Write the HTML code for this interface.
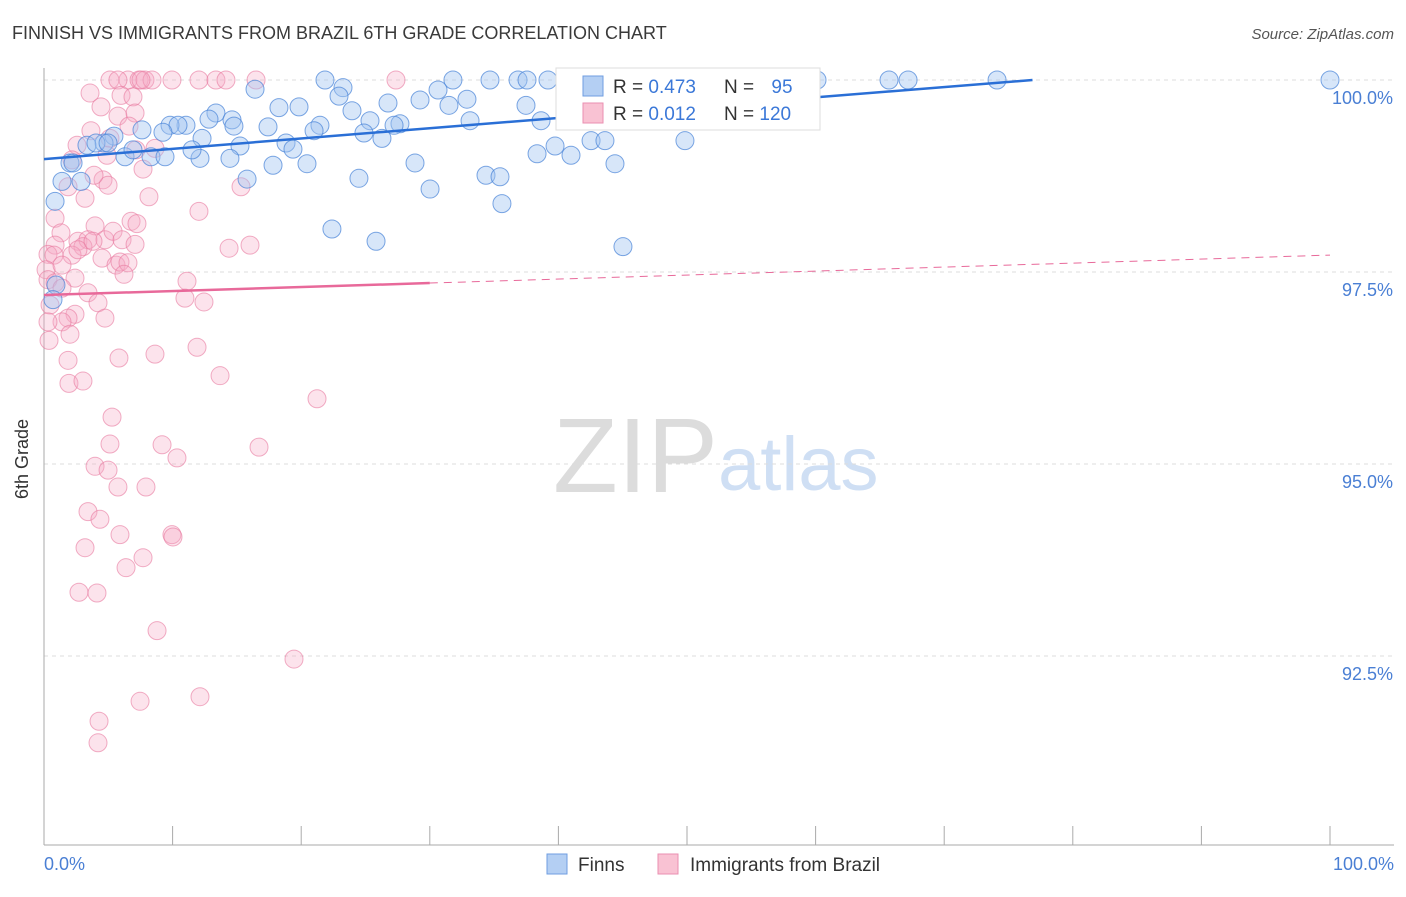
<!DOCTYPE html>
<html><head><meta charset="utf-8"><style>
body{margin:0;background:#fff;font-family:"Liberation Sans",sans-serif;}
svg text{font-family:"Liberation Sans",sans-serif;}
</style></head><body>
<svg id="chart" width="1406" height="892" xmlns="http://www.w3.org/2000/svg">
<text x="12" y="39" font-size="18" fill="#3a3a3a">FINNISH VS IMMIGRANTS FROM BRAZIL 6TH GRADE CORRELATION CHART</text>
<text x="1394" y="39" font-size="15" fill="#555" text-anchor="end" font-style="italic">Source: ZipAtlas.com</text>
<text x="24" y="455" font-size="18" fill="#333" transform="rotate(-90 28 455)" text-anchor="middle">6th Grade</text>
<g>
<text x="553" y="492" font-size="106" fill="#dcdcdc" font-family="Liberation Serif">ZIP</text>
<text x="718" y="490" font-size="76" fill="#cfdff4">atlas</text>
</g>
<g id="grid"></g><g id="axes"></g><g id="pink"></g><g id="blue"></g><g id="lines"></g>
<g>
<rect x="556" y="68" width="264" height="62" fill="#fff" stroke="#ddd"/>
<rect x="583" y="76" width="20" height="20" fill="#b4cff3" stroke="#6f9ee0"/>
<text x="613" y="93" font-size="19" fill="#333">R = <tspan fill="#3b78d8">0.473</tspan></text>
<text x="724" y="93" font-size="19" fill="#333">N = <tspan dx="12" fill="#3b78d8">95</tspan></text>
<rect x="583" y="103" width="20" height="20" fill="#f9c2d3" stroke="#ea8fb0"/>
<text x="613" y="120" font-size="19" fill="#333">R = <tspan fill="#3b78d8">0.012</tspan></text>
<text x="724" y="120" font-size="19" fill="#333">N = <tspan fill="#3b78d8">120</tspan></text>
</g>
<g>
<rect x="547" y="854" width="20" height="20" fill="#b4cff3" stroke="#6f9ee0"/>
<text x="578" y="871" font-size="19" fill="#333">Finns</text>
<rect x="658" y="854" width="20" height="20" fill="#f9c2d3" stroke="#ea8fb0"/>
<text x="690" y="871" font-size="19" fill="#333">Immigrants from Brazil</text>
</g>
</svg>
<script>
const yTicks=[100,97.5,95,92.5];
const yTickLabels=["100.0%","97.5%","95.0%","92.5%"];
const xTickVals=[0,10,20,30,40,50,60,70,80,90,100];
const blueX=[21.85,31.8,34.68,36.86,37.56,39.19,46.89,51.79,54.12,55.91,58.01,60.11,65.71,67.19,74.11,100,16.41,23.25,22.94,29.24,30.64,32.89,26.75,18.27,19.83,13.37,11.04,9.8,10.42,12.83,14.62,17.42,21.46,25.35,27.68,27.22,23.95,31.49,33.13,37.48,38.65,24.88,26.28,21.0,18.82,19.36,15.24,12.29,9.25,7.62,5.44,4.67,3.34,4.04,4.98,6.3,6.92,8.32,9.41,12.13,14.46,17.81,20.45,28.85,38.34,39.74,40.98,42.54,43.62,44.4,49.84,2.02,2.26,1.4,2.88,15.79,24.49,30.02,34.37,35.46,35.61,22.39,25.82,45.02,0.86,0.93,0.7,11.51,14.77];
const blueY=[100,100,100,100,100,100,100,100,100,100,100,100,100,100,100,100,99.88,99.9,99.79,99.74,99.87,99.75,99.7,99.64,99.65,99.57,99.41,99.41,99.41,99.49,99.48,99.39,99.41,99.47,99.43,99.41,99.6,99.67,99.47,99.67,99.47,99.31,99.24,99.34,99.18,99.1,99.14,99.24,99.32,99.35,99.27,99.18,99.15,99.18,99.18,99.0,99.09,99.0,99.0,98.98,98.98,98.89,98.91,98.92,99.04,99.14,99.02,99.21,99.21,98.91,99.21,98.92,98.92,98.68,98.68,98.71,98.72,98.58,98.76,98.74,98.39,98.06,97.9,97.83,98.42,97.33,97.14,99.09,99.4];
const pinkX=[5.13,6.53,7.39,7.85,8.4,7.54,9.95,12.05,13.37,14.15,16.49,27.37,5.75,3.58,5.99,6.92,4.43,5.75,7.08,3.65,5.13,6.61,7.15,8.63,2.57,4.9,2.18,7.7,1.87,4.59,4.98,3.89,15.32,8.16,0.86,3.19,12.05,6.77,7.23,3.97,1.32,2.64,3.42,0.86,3.03,4.74,5.37,6.07,7.08,0.31,0.78,2.18,2.64,3.81,4.51,0.16,1.4,5.6,5.91,6.53,16.02,14.39,6.22,2.41,11.12,0.31,0.86,1.4,3.42,10.96,12.44,4.2,0.47,2.41,1.87,1.4,0.31,4.74,2.02,0.39,11.9,5.83,8.63,1.87,13.69,1.94,3.03,21.23,5.29,5.13,9.18,16.72,10.34,3.97,4.98,5.75,7.93,3.42,4.35,5.91,9.95,10.03,3.19,7.7,6.38,2.72,4.12,8.79,19.44,12.13,7.47,4.28,4.2];
const pinkY=[100,100,100,100,100,100,100,100,100,100,100,100,100,99.83,99.8,99.78,99.65,99.53,99.57,99.34,99.24,99.4,99.09,99.11,99.15,99.02,98.96,98.84,98.61,98.7,98.63,98.76,98.61,98.48,98.2,98.46,98.29,98.16,98.13,98.1,98.01,97.9,97.92,97.85,97.83,97.92,98.03,97.92,97.86,97.73,97.72,97.72,97.79,97.9,97.68,97.53,97.59,97.59,97.63,97.62,97.85,97.81,97.47,97.42,97.38,97.4,97.36,97.29,97.23,97.16,97.11,97.1,97.07,96.95,96.9,96.85,96.85,96.9,96.69,96.61,96.52,96.38,96.43,96.35,96.15,96.05,96.08,95.85,95.61,95.26,95.25,95.22,95.08,94.97,94.92,94.7,94.7,94.38,94.28,94.08,94.08,94.05,93.91,93.78,93.65,93.33,93.32,92.83,92.46,91.97,91.91,91.65,91.37];
const blueFit=[98.97,0.0134];
const pinkFit=[97.2,0.0052];
const NS="http://www.w3.org/2000/svg";
const X0=44,X1=1330,Y100=80,PXPER=76.8;
const sx=v=>X0+(X1-X0)*v/100;
const sy=v=>Y100+(100-v)*PXPER;
function mk(t,a,p){const e=document.createElementNS(NS,t);for(const k in a)e.setAttribute(k,a[k]);p.appendChild(e);return e;}
const grid=document.getElementById('grid');
yTicks.forEach((v,i)=>{
 const l=mk('line',{x1:X0,x2:1394,y1:sy(v),y2:sy(v),stroke:'#ddd','stroke-dasharray':'4,4'},grid);
 
 
 const t=mk('text',{x:1393,y:sy(v)+24,'font-size':18,fill:'#4a7fd4','text-anchor':'end'},grid);
 t.textContent=yTickLabels[i];
 
 
});
const axes=document.getElementById('axes');
const ya=mk('line',{x1:X0,x2:X0,y1:68,y2:845,stroke:'#aaa'},axes);


const xa=mk('line',{x1:X0,x2:1394,y1:845,y2:845,stroke:'#aaa'},axes);


xTickVals.forEach(v=>{
 const t=mk('line',{x1:sx(v),x2:sx(v),y1:826,y2:845,stroke:'#aaa'},axes);
 
 
});
const xl0=mk('text',{x:44,y:870,'font-size':18,fill:'#4a7fd4'},axes);xl0.textContent='0.0%';


const xl1=mk('text',{x:1394,y:870,'font-size':18,fill:'#4a7fd4','text-anchor':'end'},axes);xl1.textContent='100.0%';


const pg=document.getElementById('pink');
pinkX.forEach((x,i)=>{
 const c=mk('circle',{cx:sx(x),cy:sy(pinkY[i]),r:9,fill:'rgba(246,170,196,0.33)',stroke:'rgba(232,120,158,0.6)','stroke-width':1},pg);
 
 
});
const bg=document.getElementById('blue');
blueX.forEach((x,i)=>{
 const c=mk('circle',{cx:sx(x),cy:sy(blueY[i]),r:9,fill:'rgba(160,196,240,0.42)',stroke:'rgba(70,130,215,0.7)','stroke-width':1},bg);
 
 
});
const lg=document.getElementById('lines');
let bxEnd=Math.min(100,(100-blueFit[0])/blueFit[1]);
const bl=mk('line',{x1:sx(0),y1:sy(blueFit[0]),x2:sx(bxEnd),y2:sy(blueFit[0]+blueFit[1]*bxEnd),stroke:'#2a6fd6','stroke-width':2.5},lg);


const pl=mk('line',{x1:sx(0),y1:sy(pinkFit[0]),x2:sx(30),y2:sy(pinkFit[0]+pinkFit[1]*30),stroke:'#e8699a','stroke-width':2.5},lg);


const pd=mk('line',{x1:sx(30),y1:sy(pinkFit[0]+pinkFit[1]*30),x2:sx(100),y2:sy(pinkFit[0]+pinkFit[1]*100),stroke:'#e8699a','stroke-width':1,'stroke-dasharray':'8,6'},lg);


</script>
</body></html>
